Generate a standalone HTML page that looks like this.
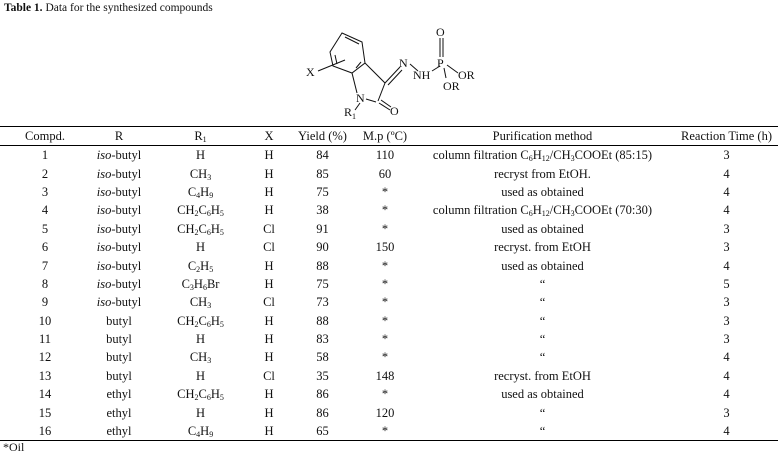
<!DOCTYPE html>
<html><head><style>
body{margin:0;background:#fff;width:782px;height:455px;position:relative;font-family:"Liberation Serif",serif;color:#111;overflow:hidden}
.t{position:absolute;left:4px;top:2px;font-size:11.5px}
table{position:absolute;left:0;top:126px;width:778px;border-collapse:collapse;font-size:12.5px}
thead tr{border-top:1.5px solid #000;border-bottom:1px solid #000}
tbody tr:last-child{border-bottom:1.5px solid #000}
td,th{font-weight:normal;text-align:center;padding:0;height:18.4px;line-height:18px;white-space:nowrap}
th{height:17px}
sub{font-size:8px;vertical-align:-2px;line-height:0}
.o{position:absolute;left:3px;top:440px;font-size:12px}
</style></head><body>
<div class="t"><b>Table 1.</b> Data for the synthesized compounds</div>
<svg width="782" height="126" style="position:absolute;left:0;top:0" font-family="Liberation Serif,serif" font-size="12" fill="#111">
<g stroke="#111" stroke-width="1" fill="none">
<polygon points="342,33 362,42 365,63 352,73 333,66 330,52"/>
<line x1="345" y1="37" x2="359" y2="44"/><line x1="335" y1="55" x2="337" y2="64"/><line x1="356" y1="68" x2="361" y2="62"/>
<line x1="365" y1="63" x2="385" y2="83"/><line x1="385" y1="83" x2="378" y2="101"/>
<line x1="352" y1="73" x2="357" y2="93"/><line x1="366" y1="99" x2="376" y2="102"/>
<line x1="379" y1="103" x2="390" y2="110"/><line x1="381" y1="100" x2="391" y2="107"/>
<line x1="385" y1="83" x2="400" y2="67"/><line x1="388" y1="85" x2="402" y2="70"/>
<line x1="410" y1="64" x2="418" y2="71"/><line x1="432" y1="71" x2="440" y2="66"/>
<line x1="440" y1="38" x2="440" y2="57"/><line x1="443" y1="38" x2="443" y2="57"/>
<line x1="447" y1="65" x2="458" y2="73"/><line x1="444" y1="68" x2="446" y2="78"/>
<line x1="318" y1="71" x2="345" y2="60"/><line x1="360" y1="103" x2="355" y2="110"/>
</g>
<text x="306" y="76">X</text><text x="356" y="102">N</text><text x="390" y="115">O</text>
<text x="399" y="67">N</text><text x="413" y="79">NH</text><text x="437" y="67">P</text>
<text x="436" y="36">O</text><text x="458" y="79">OR</text><text x="443" y="90">OR</text>
<text x="344" y="116">R</text><text x="352" y="119" font-size="8">1</text>
</svg>
<table>
<colgroup><col style="width:90px"><col style="width:58px"><col style="width:105px"><col style="width:32px"><col style="width:75px"><col style="width:50px"><col style="width:265px"><col></colgroup>
<thead><tr><th>Compd.</th><th>R</th><th>R<sub>1</sub></th><th>X</th><th>Yield (%)</th><th>M.p (ºC)</th><th>Purification method</th><th>Reaction Time (h)</th></tr></thead>
<tbody>
<tr><td>1</td><td><i>iso</i>-butyl</td><td>H</td><td>H</td><td>84</td><td>110</td><td>column filtration C<sub>6</sub>H<sub>12</sub>/CH<sub>3</sub>COOEt (85:15)</td><td>3</td></tr>
<tr><td>2</td><td><i>iso</i>-butyl</td><td>CH<sub>3</sub></td><td>H</td><td>85</td><td>60</td><td>recryst from EtOH.</td><td>4</td></tr>
<tr><td>3</td><td><i>iso</i>-butyl</td><td>C<sub>4</sub>H<sub>9</sub></td><td>H</td><td>75</td><td>*</td><td>used as obtained</td><td>4</td></tr>
<tr><td>4</td><td><i>iso</i>-butyl</td><td>CH<sub>2</sub>C<sub>6</sub>H<sub>5</sub></td><td>H</td><td>38</td><td>*</td><td>column filtration C<sub>6</sub>H<sub>12</sub>/CH<sub>3</sub>COOEt (70:30)</td><td>4</td></tr>
<tr><td>5</td><td><i>iso</i>-butyl</td><td>CH<sub>2</sub>C<sub>6</sub>H<sub>5</sub></td><td>Cl</td><td>91</td><td>*</td><td>used as obtained</td><td>3</td></tr>
<tr><td>6</td><td><i>iso</i>-butyl</td><td>H</td><td>Cl</td><td>90</td><td>150</td><td>recryst. from EtOH</td><td>3</td></tr>
<tr><td>7</td><td><i>iso</i>-butyl</td><td>C<sub>2</sub>H<sub>5</sub></td><td>H</td><td>88</td><td>*</td><td>used as obtained</td><td>4</td></tr>
<tr><td>8</td><td><i>iso</i>-butyl</td><td>C<sub>3</sub>H<sub>6</sub>Br</td><td>H</td><td>75</td><td>*</td><td>“</td><td>5</td></tr>
<tr><td>9</td><td><i>iso</i>-butyl</td><td>CH<sub>3</sub></td><td>Cl</td><td>73</td><td>*</td><td>“</td><td>3</td></tr>
<tr><td>10</td><td>butyl</td><td>CH<sub>2</sub>C<sub>6</sub>H<sub>5</sub></td><td>H</td><td>88</td><td>*</td><td>“</td><td>3</td></tr>
<tr><td>11</td><td>butyl</td><td>H</td><td>H</td><td>83</td><td>*</td><td>“</td><td>3</td></tr>
<tr><td>12</td><td>butyl</td><td>CH<sub>3</sub></td><td>H</td><td>58</td><td>*</td><td>“</td><td>4</td></tr>
<tr><td>13</td><td>butyl</td><td>H</td><td>Cl</td><td>35</td><td>148</td><td>recryst. from EtOH</td><td>4</td></tr>
<tr><td>14</td><td>ethyl</td><td>CH<sub>2</sub>C<sub>6</sub>H<sub>5</sub></td><td>H</td><td>86</td><td>*</td><td>used as obtained</td><td>4</td></tr>
<tr><td>15</td><td>ethyl</td><td>H</td><td>H</td><td>86</td><td>120</td><td>“</td><td>3</td></tr>
<tr><td>16</td><td>ethyl</td><td>C<sub>4</sub>H<sub>9</sub></td><td>H</td><td>65</td><td>*</td><td>“</td><td>4</td></tr>
</tbody></table>
<div class="o">*Oil</div>
</body></html>
